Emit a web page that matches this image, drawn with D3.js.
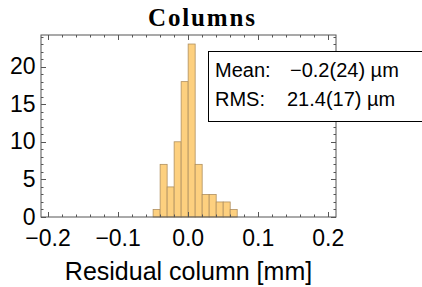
<!DOCTYPE html>
<html><head><meta charset="utf-8">
<script src="https://cdn.jsdelivr.net/npm/d3@7"></script>
<style>html,body{margin:0;padding:0;background:#fff;overflow:hidden}</style>
</head><body>
<svg id="c" width="422" height="287"></svg>
<script>
const title = "Columns";
const xLabel = "Residual column [mm]";
const binEdges = [-0.05,-0.04,-0.03,-0.02,-0.01,0.0,0.01,0.02,0.03,0.04,0.05,0.06,0.07];
const counts = [1,7,4,10,18,23,7,3,3,2,2,1];
const xTicks = [-0.2,-0.1,0.0,0.1,0.2];
const yTicks = [0,5,10,15,20];
const statLabels = ["Mean:","RMS:"];
const statValues = ["\u22120.2(24) \u00b5m","21.4(17) \u00b5m"];

const svg = d3.select("#c");
const L=41,R=336,T=35,B=217;
const x = d3.scaleLinear().domain([-0.21,0.211]).range([L,R]);
const y = d3.scaleLinear().domain([0,24.2]).range([B,T]);
const frameCol="#555";

// bars
const bars = counts.map((c,i)=>({x0:binEdges[i],x1:binEdges[i+1],c}));
svg.append("g").selectAll("rect").data(bars).join("rect")
  .attr("x",d=>x(d.x0)).attr("width",d=>x(d.x1)-x(d.x0))
  .attr("y",d=>y(d.c)).attr("height",d=>y(0)-y(d.c))
  .attr("fill","#fdd07f").attr("stroke","#b09060").attr("stroke-width",0.8);

// frame
svg.append("rect").attr("x",L).attr("y",T).attr("width",R-L).attr("height",B-T)
  .attr("fill","none").attr("stroke",frameCol).attr("stroke-width",1);

const fmtX = d=> d===0 ? "0.0" : (d<0?"\u2212":"")+Math.abs(d).toFixed(1);
const xMinor = d3.range(-0.2,0.2001,0.02);
const yMinor = d3.range(0,25,1);
const tk = svg.append("g").attr("stroke",frameCol).attr("stroke-width",1);
xMinor.forEach(v=>{
  const maj = xTicks.some(t=>Math.abs(t-v)<1e-9);
  const len = maj?5:2.5, px=Math.round(x(v))+0.5;
  tk.append("line").attr("x1",px).attr("x2",px).attr("y1",B).attr("y2",B-len);
  tk.append("line").attr("x1",px).attr("x2",px).attr("y1",T).attr("y2",T+len);
});
yMinor.forEach(v=>{
  const maj = yTicks.includes(v);
  const len = maj?5:2.5, py=Math.round(y(v))+0.5;
  tk.append("line").attr("x1",L).attr("x2",L+len).attr("y1",py).attr("y2",py);
  tk.append("line").attr("x1",R).attr("x2",R-len).attr("y1",py).attr("y2",py);
});

const font = "'Liberation Sans', Arial, sans-serif";
svg.append("g").selectAll("text").data(xTicks).join("text")
  .attr("x",d=>x(d)).attr("y",246).attr("text-anchor","middle")
  .attr("font-family",font).attr("font-size",23).text(fmtX);
svg.append("g").selectAll("text").data(yTicks).join("text")
  .attr("x",35.5).attr("y",d=>y(d)+7.5).attr("text-anchor","end")
  .attr("font-family",font).attr("font-size",23).text(d=>d);

svg.append("text").attr("x",188.5).attr("y",280).attr("text-anchor","middle")
  .attr("font-family",font).attr("font-size",25).text(xLabel);

svg.append("text").attr("x",201.5).attr("y",26).attr("text-anchor","middle")
  .attr("font-family","'Liberation Serif', serif").attr("font-weight","bold")
  .attr("font-size",25).attr("textLength",107).text(title);

// stats box
svg.append("rect").attr("x",208.5).attr("y",51.5).attr("width",220).attr("height",70)
  .attr("fill","#fff").attr("stroke","#000").attr("stroke-width",1);
const sg = svg.append("g").attr("font-family",font).attr("font-size",20);
statLabels.forEach((s,i)=>{
  sg.append("text").attr("x",215).attr("y",77+i*28.5).text(s);
});
sg.append("text").attr("x",290).attr("y",77).text(statValues[0]);
sg.append("text").attr("x",287).attr("y",105.5).text(statValues[1]);
</script>
</body></html>
